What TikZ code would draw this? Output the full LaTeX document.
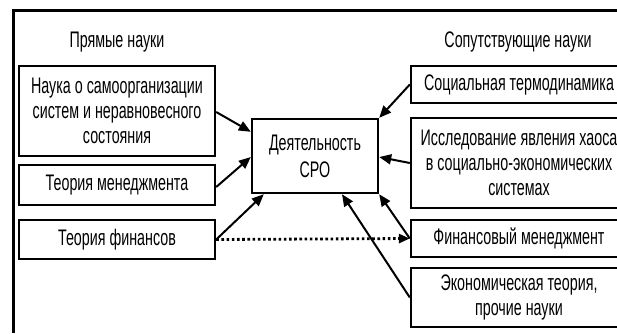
\documentclass[tikz,border=0pt]{standalone}
\usepackage{fontspec}
\setmainfont[FakeStretch=0.635]{Liberation Sans}
\usetikzlibrary{arrows.meta,calc}
\begin{document}
\begin{tikzpicture}[x=1pt,y=-1pt,
  box/.style={draw,line width=2.4pt,inner sep=0pt,align=center,font=\fontsize{22.5}{25}\selectfont},
  lbl/.style={inner sep=0pt,font=\fontsize{22.5}{25}\selectfont},
  arr/.style={line width=2pt,-{Triangle[length=12pt,width=10pt]}},
  dots/.style={line width=2.8pt,dash pattern=on 2.6pt off 2.6pt,-{Triangle[length=11pt,width=9pt]}}]
\useasboundingbox (0,0) rectangle (617,333);
\clip (0,0) rectangle (617,333);
% outer frame (left and top)
\draw[line width=3pt] (13,333) -- (13,10.5) -- (617,10.5);
% headings
\node[lbl] (hl) at (117,42) {Прямые науки};
\node[lbl] (hr) at (518,42) {Сопутствующие науки};
% left boxes
\node[box,minimum width=196pt,minimum height=90pt] (b1) at (117,111) {Наука о самоорганизации\\систем и неравновесного\\состояния};
\node[box,minimum width=196pt,minimum height=40pt] (b2) at (117,185) {Теория менеджмента};
\node[box,minimum width=196pt,minimum height=39pt] (b3) at (117,239.5) {Теория финансов};
% centre
\node[box,minimum width=126pt,minimum height=74pt,font=\fontsize{22.5}{27}\selectfont] (c) at (315,156) {Деятельность\\СРО};
% right boxes
\node[box,minimum width=216pt,minimum height=37pt] (r1) at (519,84.5) {Социальная термодинамика};
\node[box,minimum width=216pt,minimum height=90pt] (r2) at (519,163) {Исследование явления хаоса\\в социально-экономических\\системах};
\node[box,minimum width=216pt,minimum height=37pt] (r3) at (519,238.5) {Финансовый менеджмент};
\node[box,minimum width=216pt,minimum height=59pt] (r4) at (519,297.5) {Экономическая теория,\\прочие науки};
% connectors
\draw[arr] ($(b1.east)+(0,1)$) -- ($(c.north west)+(0,14)$);
\draw[arr] ($(b2.east)+(0,2)$) -- ($(c.west)+(0,1)$);
\draw[arr] (b3.east) -- ($(c.south west)+(13,0)$);
\draw[dots] (b3.east) -- (r3.west);
\draw[arr] (r1.west) -- (c.north east);
\draw[arr] (r2.west) -- ($(c.east)+(0,1)$);
\draw[arr] (r3.west) -- (c.south east);
\draw[arr] (r4.west) -- ($(c.south)+(27,0)$);
\end{tikzpicture}
\end{document}
